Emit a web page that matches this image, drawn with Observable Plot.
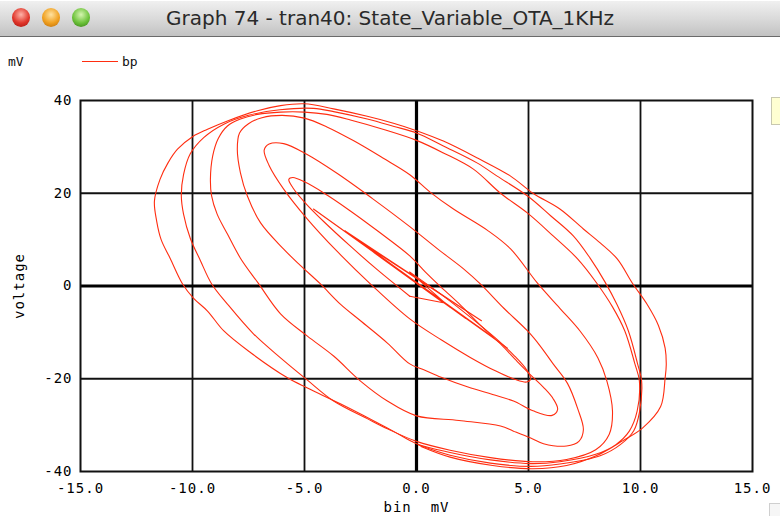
<!DOCTYPE html>
<html>
<head>
<meta charset="utf-8">
<script src="https://cdn.jsdelivr.net/npm/d3@7"></script>
<script src="https://cdn.jsdelivr.net/npm/@observablehq/plot@0.6"></script>
<style>
  html, body { margin: 0; padding: 0; background: #fff; }
  body { position: relative; width: 780px; height: 516px; overflow: hidden; font-family: "DejaVu Sans Mono", monospace; }
  #bar { position: absolute; left: 0; top: 1px; width: 780px; height: 35px;
         background: linear-gradient(#f0f0f0, #d8d8d8 55%, #c2c2c2); border-bottom: 1px solid #6a6a6a; }
  .light { position: absolute; top: 8px; width: 18px; height: 19px; border-radius: 50%; }
  #red { left: 12px; background: radial-gradient(circle at 50% 35%, #ffb3a8, #e0362a 55%, #a3120c); }
  #amber { left: 42px; background: radial-gradient(circle at 50% 35%, #ffe2a0, #f0a020 55%, #b86a08); }
  #green { left: 72px; background: radial-gradient(circle at 50% 35%, #d6f5b0, #6cc23a 55%, #347a14); }
  #title { position: absolute; left: 0; width: 780px; top: 6px; text-align: center;
           font-family: "DejaVu Sans", sans-serif; font-size: 20px; color: #2a2a2a; }
  .leg { position: absolute; top: 54px; font-size: 13px; color: #111; }
  #legline { position: absolute; left: 82px; top: 61px; width: 36px; height: 0; border-top: 1.3px solid #ff2d10; }
  #chart { position: absolute; left: 0; top: 78px; }
  #note { position: absolute; left: 771px; top: 97px; width: 12px; height: 26px; background: #ffffd2; border: 1px solid #c8c8b0; }
  #grip { position: absolute; left: 769px; top: 503px; width: 12px; height: 14px; border: 1px solid #cfcfcf; background: #f6f6f6; }
</style>
</head>
<body>
<div id="bar"></div>
<div class="light" id="red"></div>
<div class="light" id="amber"></div>
<div class="light" id="green"></div>
<div id="title">Graph 74 - tran40: State_Variable_OTA_1KHz</div>
<div class="leg" style="left:8px">mV</div>
<div id="legline"></div>
<div class="leg" style="left:122px">bp</div>
<div id="note"></div>
<div id="grip"></div>
<div id="chart"></div>
<script>
// Axis ticks
const xTicks = [-15, -10, -5, 0, 5, 10, 15];
const yTicks = [-40, -20, 0, 20, 40];
const xGrid = [-10, -5, 5, 10];
const yGrid = [-20, 20];

// bp (mV) against bin (mV), traced as half-turns of the spiral.
// Right halves run top -> bottom, left halves bottom -> top.
const rA = [[0,33.5],[1.2,31.25],[2.72,27.6],[4.2,23.7],[5.2,20.0],[6.4,16.6],[7.45,12.3],[8.2,9.3],[8.97,5.8],[9.64,0.6],[10.3,-4.0],[10.8,-8.5],[11.1,-13.4],[11.15,-17.0],[11.1,-19.8],[10.9,-26.0],[10.1,-30.6],[9.2,-33.4],[8.2,-36.2],[6.7,-38.7],[5.2,-39.4],[3.4,-38.7],[1.5,-36.9],[0.2,-34.6]];
const lA = [[0,-34.0],[-1.0,-31.4],[-1.9,-29.1],[-3.4,-25.4],[-4.87,-22.0],[-5.76,-19.8],[-7.4,-14.4],[-8.6,-9.7],[-9.33,-5.4],[-9.96,-2.6],[-10.45,0.5],[-11.0,6.0],[-11.4,10.0],[-11.6,14.0],[-11.7,18.3],[-11.45,23.0],[-11.1,26.5],[-10.67,29.5],[-10.0,32.2],[-9.33,33.8],[-8.44,35.6],[-7.1,37.8],[-6.07,38.9],[-5.0,39.3],[-3.7,38.2],[-2.2,36.6],[-1.03,35.1],[0,33.5]];
const rB2 = [[0,31.4],[1.2,28.7],[2.54,25.2],[3.75,20.0],[4.96,15.7],[6.1,10.8],[7.2,5.8],[8.05,0.6],[8.75,-4.5],[9.3,-9.7],[9.75,-16.8],[9.95,-20.5],[9.85,-27.0],[9.5,-31.3],[8.9,-34.2],[8.0,-36.3],[6.4,-37.9],[5.1,-38.3],[3.3,-37.5],[1.5,-35.9],[0,-34.0]];
const lC = [[0,-28.0],[-1.3,-24.8],[-2.5,-20.5],[-3.7,-15.1],[-4.87,-10.8],[-6.07,-6.0],[-7.05,0.5],[-7.86,6.0],[-8.44,11.2],[-8.9,15.5],[-9.15,19.5],[-9.2,23.0],[-9.1,28.0],[-8.85,31.8],[-8.44,34.5],[-7.86,36.0],[-7.1,37.0],[-6.07,37.5],[-5.0,37.5],[-4.0,37.0],[-2.95,35.8],[-1.5,33.8],[0,31.4]];
const rD = [[-0.3,12.8],[0.94,8.0],[2.1,3.7],[2.86,0.4],[3.9,-4.8],[4.96,-9.7],[5.5,-12.8],[6.1,-16.8],[6.74,-21.0],[7.2,-26.5],[7.45,-31.0],[7.25,-33.5],[6.7,-34.5],[5.67,-34.0],[5.1,-32.8],[4.33,-31.3],[3.75,-30.2],[1.9,-29.0],[0,-28.0]];
const lE = [[-0.3,-7.1],[-1.98,0.1],[-3.55,7.5],[-4.9,14.6],[-5.93,20.9],[-6.58,26.0],[-6.8,29.3],[-6.58,30.6],[-5.93,30.7],[-4.9,28.4],[-3.55,24.3],[-1.98,18.9],[-0.3,12.8]];
const rF = [[-0.3,3.0],[1.1,-1.8],[2.4,-6.7],[3.52,-11.2],[4.38,-15.1],[4.92,-18.1],[5.1,-20.0],[4.92,-20.7],[4.38,-20.1],[3.52,-18.3],[2.4,-15.4],[1.1,-11.6],[-0.3,-7.1]];
const streak = [[-0.3,3.0],[1.5,-4.6],[-1.4,5.6],[2.2,-7.0],[-2.4,9.2],[2.9,-7.5],[-3.2,11.9],[3.4,-11.0],[-4.6,16.6],[4.06,-13.4],[-1.9,7.2],[1.2,-3.6],[-0.3,-2.2]];
const lF = [[-0.3,-2.2],[-1.7,3.3],[-3.0,8.8],[-4.12,13.8],[-4.98,18.0],[-5.52,21.2],[-5.7,23.0],[-5.52,23.4],[-4.98,22.4],[-4.12,20.0],[-3.0,16.35],[-1.7,11.75],[-0.3,6.5]];
const rE = [[-0.3,6.5],[0.4,3.0],[1.0,0.2],[1.9,-3.8],[2.8,-8.2],[3.75,-12.5],[4.5,-16.3],[5.1,-19.2],[5.7,-22.0],[6.1,-24.3],[6.3,-26.6],[6.05,-27.9],[5.2,-26.9],[4.33,-24.8],[3.4,-23.4],[2.3,-21.8],[1.1,-19.7],[0.3,-18.0],[-0.3,-16.8]];
const lD = [[-0.3,-16.8],[-1.3,-12.3],[-2.5,-7.5],[-3.4,-3.9],[-4.3,0.5],[-5.2,4.5],[-5.94,8.0],[-6.96,13.6],[-7.55,19.4],[-7.86,24.4],[-8.0,29.5],[-7.9,33.0],[-7.5,35.0],[-6.9,36.3],[-6.0,36.8],[-5.0,36.2],[-4.0,34.3],[-2.8,31.3],[-1.5,27.6],[-0.3,24.0]];
const rC = [[-0.3,24.0],[0.62,20.2],[1.65,16.6],[3.17,12.0],[4.2,8.0],[5.4,0.6],[6.4,-4.8],[7.3,-9.7],[8.1,-15.5],[8.5,-20.5],[8.75,-27.0],[8.6,-32.0],[8.0,-35.3],[6.7,-37.4],[5.2,-37.9],[3.3,-37.0],[1.5,-35.4],[0,-33.5]];
const lB = [[0,-33.5],[-1.3,-30.8],[-2.2,-28.6],[-3.7,-24.8],[-4.87,-20.3],[-6.07,-15.5],[-7.28,-10.3],[-8.44,-3.9],[-9.15,0.5],[-9.64,5.4],[-10.1,10.3],[-10.4,15.5],[-10.5,19.5],[-10.4,24.0],[-10.1,28.5],[-9.5,32.0],[-8.6,34.9],[-7.5,36.8],[-6.1,38.0],[-4.6,38.3],[-3.7,37.6],[-2.2,36.0],[-1.0,34.4],[0,33.0]];
const rB = [[0,33.0],[1.2,30.2],[2.72,26.5],[3.6,23.7],[4.96,19.4],[6.0,15.1],[7.0,10.8],[7.75,6.0],[8.4,1.0],[8.95,-4.0],[9.46,-9.7],[9.87,-16.8],[10.05,-20.5],[9.95,-27.3],[9.7,-31.2],[9.1,-34.2],[8.2,-36.6],[6.4,-38.4],[5.1,-38.9],[3.3,-38.2],[1.5,-36.5],[0.1,-34.3]];

// Join half-turns into continuous arms, dropping the shared end points.
function arm(name, parts) {
  const rows = [];
  for (const part of parts) {
    for (const [x, y] of part) {
      const last = rows[rows.length - 1];
      if (last && last.x === x && last.y === y) continue;
      rows.push({x, y, arm: name});
    }
  }
  return rows;
}
const inward = arm("in", [rF, lE, rD, lC, rB2, lA, rA]);
const outward = arm("out", [lF, rE, lD, rC, lB, rB]);
const core = arm("core", [streak]);

const red = "#ff2d10";

const chart = Plot.plot({
  width: 780,
  height: 438,
  marginLeft: 80,
  marginRight: 28,
  marginTop: 22,
  marginBottom: 45,
  style: {fontFamily: "DejaVu Sans Mono, monospace", fontSize: "14px", color: "#000", background: "transparent", letterSpacing: "1px"},
  x: {domain: [-15, 15]},
  y: {domain: [-40, 40]},
  marks: [
    Plot.ruleX(xGrid, {stroke: "#111", strokeWidth: 1.8}),
    Plot.ruleY(yGrid, {stroke: "#111", strokeWidth: 1.8}),
    Plot.ruleX([0], {stroke: "#000", strokeWidth: 3.2}),
    Plot.ruleY([0], {stroke: "#000", strokeWidth: 3.2}),
    Plot.frame({stroke: "#111", strokeWidth: 2}),
    Plot.axisX({ticks: xTicks, tickSize: 0, tickPadding: 12, tickFormat: d => d.toFixed(1),
                label: "bin\u00a0\u00a0mV", labelAnchor: "center", labelOffset: 40, labelArrow: "none"}),
    Plot.axisY({ticks: yTicks, tickSize: 0, tickPadding: 8, tickFormat: d => String(d),
                label: "voltage", labelAnchor: "center", labelOffset: 66, labelArrow: "none"}),
    Plot.line(core, {x: "x", y: "y", z: "arm", stroke: red, strokeWidth: 1.1, curve: "linear"}),
    Plot.line(inward.concat(outward), {x: "x", y: "y", z: "arm", stroke: red, strokeWidth: 1.1, curve: "catmull-rom"})
  ]
});
document.getElementById("chart").appendChild(chart);
</script>
</body>
</html>
